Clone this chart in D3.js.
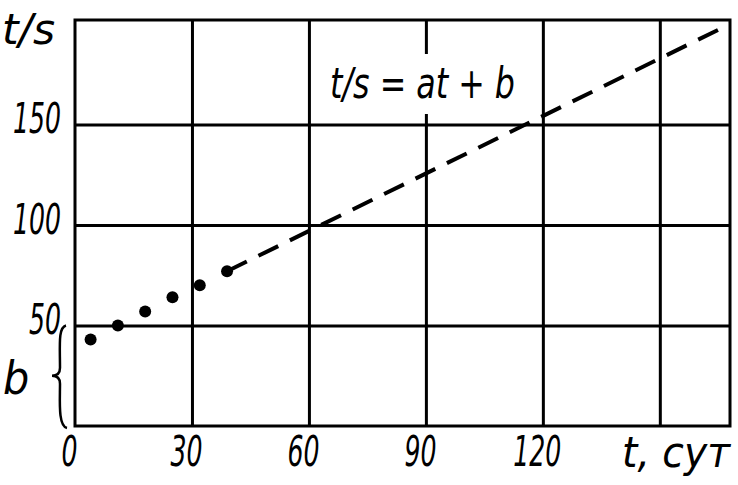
<!DOCTYPE html>
<html><head><meta charset="utf-8">
<script src="https://cdn.jsdelivr.net/npm/d3@7"></script>
<style>
body{margin:0;background:#fff;}
text{font-family:"DejaVu Sans",sans-serif;font-stretch:condensed;font-style:italic;fill:#000;}
</style></head>
<body><svg id="c" width="738" height="485"></svg>
<script>
// data
const tDays = [4, 11, 18, 25, 32, 39];
const tOverS = [43, 50, 57, 64, 70, 77];
const fitT = [39, 168];
const fitY = [77, 200];
const xTickLabels = [0, 30, 60, 90, 120];
const xGrid = [30, 60, 90, 120, 150];
const yTickLabels = [50, 100, 150];
const yGrid = [50, 100, 150];

const svg = d3.select("#c");
const L = 75, R = 730, T = 20, B = 426;
const x = d3.scaleLinear().domain([0, 168]).range([L, R]);
const y = d3.scaleLinear().domain([0, 202]).range([B, T]);

// grid via axes
const gx = svg.append("g").attr("transform", `translate(0,${B})`)
  .call(d3.axisBottom(x).tickValues(xGrid).tickSize(-(B - T)).tickFormat(""));
const gy = svg.append("g").attr("transform", `translate(${L},0)`)
  .call(d3.axisLeft(y).tickValues(yGrid).tickSize(-(R - L)).tickFormat(""));
[gx, gy].forEach(g => {
  g.select(".domain").remove();
  g.selectAll(".tick line").attr("stroke", "#000").attr("stroke-width", 3);
});
// frame
svg.append("rect").attr("x", L).attr("y", T).attr("width", R - L).attr("height", B - T)
  .attr("fill", "none").attr("stroke", "#000").attr("stroke-width", 3);

// formula label with white background
svg.append("rect").attr("x", 322).attr("y", 54).attr("width", 205).attr("height", 60).attr("fill", "#fff");
svg.append("text").attr("x", 330).attr("y", 98).attr("font-size", 42)
  .attr("textLength", 185).attr("lengthAdjust", "spacingAndGlyphs").text("t/s = at + b");

// tick labels via axes
const lx = svg.append("g").attr("transform", `translate(-6,${B})`)
  .call(d3.axisBottom(x).tickValues(xTickLabels).tickSize(0).tickPadding(9).tickFormat(d3.format("d")));
lx.select(".domain").remove();
lx.selectAll("text").attr("font-size", 43).attr("font-family", null)
  .attr("textLength", d => String(d).length * 16).attr("lengthAdjust", "spacingAndGlyphs");
const ly = svg.append("g").attr("transform", `translate(${L - 14},8)`)
  .call(d3.axisLeft(y).tickValues(yTickLabels).tickSize(0).tickPadding(0).tickFormat(d3.format("d")));
ly.select(".domain").remove();
ly.selectAll("text").attr("font-size", 43).attr("font-family", null).attr("dy", "0")
  .attr("textLength", d => String(d).length * 16).attr("lengthAdjust", "spacingAndGlyphs");

// axis titles
svg.append("text").attr("x", 2).attr("y", 44).attr("font-size", 42)
  .attr("textLength", 53).attr("lengthAdjust", "spacingAndGlyphs").text("t/s");
svg.append("text").attr("x", 622).attr("y", 467).attr("font-size", 42)
  .attr("textLength", 108).attr("lengthAdjust", "spacingAndGlyphs").text("t, сут");
svg.append("text").attr("x", 3).attr("y", 394).attr("font-size", 46).text("b");

// brace for b
const bTop = y(50), bBot = y(0), bMid = (bTop + bBot) / 2;
svg.append("path")
  .attr("d", `M66,${bTop} C58,${bTop+2} 60,${bMid-30} 60,${bMid-8} Q60,${bMid} 52,${bMid} Q60,${bMid} 60,${bMid+8} C60,${bBot-25} 58,${bBot} 67,${bBot+2}`)
  .attr("fill", "none").attr("stroke", "#000").attr("stroke-width", 2.5);

// fit line
svg.append("path").datum(fitT.map((t, i) => [t, fitY[i]]))
  .attr("d", d3.line().x(d => x(d[0])).y(d => y(d[1])))
  .attr("fill", "none").attr("stroke", "#000").attr("stroke-width", 4)
  .attr("stroke-dasharray", "22,13");

// points
svg.append("g").selectAll("circle").data(tDays.map((t, i) => [t, tOverS[i]]))
  .join("circle").attr("cx", d => x(d[0])).attr("cy", d => y(d[1])).attr("r", 6).attr("fill", "#000");
</script></body></html>
